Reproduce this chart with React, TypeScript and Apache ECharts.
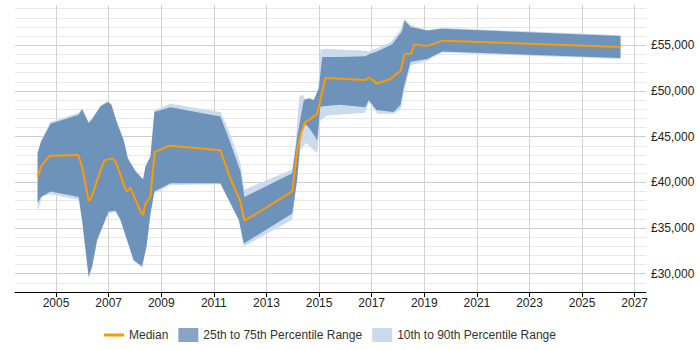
import React, { useEffect, useRef } from "react";
import * as echarts from "echarts";

type Pt = [number, number];

// Axis tick positions
const yearTicks = [2005, 2007, 2009, 2011, 2013, 2015, 2017, 2019, 2021, 2023, 2025, 2027];
const salaryTicks = [30000, 35000, 40000, 45000, 50000, 55000];

// Median salary over time [decimal year, £]
const median: Pt[] = [
  [2004.3, 40600], [2004.44, 41800], [2004.75, 42900], [2005.84, 43000], [2005.99, 41700],
  [2006.24, 38000], [2006.33, 38200], [2006.69, 41300], [2006.84, 42400], [2007.13, 42600],
  [2007.26, 42300], [2007.48, 40600], [2007.64, 39200], [2007.7, 39000], [2007.83, 39400],
  [2008.08, 37700], [2008.21, 36800], [2008.31, 36400], [2008.4, 37700], [2008.59, 38400],
  [2008.75, 43300], [2009.32, 44000], [2011.25, 43500], [2011.63, 40400], [2012.01, 37900],
  [2012.16, 35800], [2013.03, 37300], [2013.98, 39000], [2014.17, 43500], [2014.32, 45500],
  [2014.48, 46600], [2014.61, 46800], [2014.93, 47500], [2015.05, 49000], [2015.24, 51400],
  [2016.76, 51200], [2016.89, 51500], [2017.21, 50800], [2017.71, 51300], [2018.1, 52200],
  [2018.25, 54000], [2018.37, 54100], [2018.48, 54000], [2018.63, 55100], [2019.11, 54900],
  [2019.68, 55500], [2026.46, 54800],
];

// 75th percentile
const p75: Pt[] = [
  [2004.3, 43200], [2004.43, 44400], [2004.79, 46400], [2005.86, 47400], [2005.99, 48000],
  [2006.24, 46500], [2006.37, 46900], [2006.69, 48300], [2006.97, 48800], [2007.1, 48500],
  [2007.32, 46500], [2007.57, 44600], [2007.73, 42600], [2008.02, 41200], [2008.31, 40300],
  [2008.4, 41700], [2008.59, 42800], [2008.74, 47700], [2009.35, 48200], [2011.25, 47200],
  [2011.63, 44300], [2012.01, 41200], [2012.16, 38400], [2013.98, 41000], [2014.17, 45000],
  [2014.42, 49000], [2014.61, 49200], [2014.8, 49000], [2014.99, 50300], [2015.12, 53700],
  [2015.81, 53700], [2016.76, 53800], [2016.9, 54000], [2017.21, 54300], [2017.78, 55100],
  [2018.15, 56500], [2018.25, 57700], [2018.48, 57000], [2019.11, 56600], [2019.68, 56800],
  [2026.46, 56000],
];

// 25th percentile
const p25: Pt[] = [
  [2004.3, 37700], [2004.43, 38400], [2004.79, 39000], [2005.86, 38400], [2005.99, 35900],
  [2006.24, 29700], [2006.37, 30800], [2006.56, 33700], [2006.81, 35500], [2007.0, 36800],
  [2007.26, 36900], [2007.45, 35900], [2007.7, 33700], [2007.95, 31500], [2008.27, 30800],
  [2008.44, 33000], [2008.59, 36600], [2008.74, 39000], [2009.35, 39900], [2011.25, 39900],
  [2011.95, 35900], [2012.14, 33300], [2013.98, 36600], [2014.17, 40300], [2014.29, 44600],
  [2014.42, 46500], [2014.61, 46000], [2014.8, 45200], [2014.93, 44600], [2015.05, 48300],
  [2015.81, 48500], [2016.76, 48200], [2016.89, 49000], [2017.18, 47900], [2017.84, 47700],
  [2018.1, 48500], [2018.22, 50400], [2018.48, 53200], [2019.11, 53500], [2019.68, 54300],
  [2026.46, 53600],
];

// 90th percentile
const p90: Pt[] = [
  [2004.3, 43300], [2004.43, 44600], [2004.79, 46600], [2005.86, 47600], [2005.99, 48100],
  [2006.24, 46600], [2006.37, 47000], [2006.69, 48400], [2006.97, 48900], [2007.1, 48600],
  [2007.32, 46600], [2007.57, 44700], [2007.73, 42700], [2008.02, 41300], [2008.31, 40400],
  [2008.4, 41800], [2008.59, 42900], [2008.74, 47900], [2009.35, 48600], [2011.25, 47700],
  [2011.51, 46100], [2012.01, 42100], [2012.16, 39200], [2013.98, 41400], [2014.1, 44000],
  [2014.25, 49400], [2014.38, 49600], [2014.57, 48500], [2014.93, 48700], [2015.05, 54500],
  [2015.24, 54600], [2016.76, 54400], [2016.89, 54300], [2017.21, 54700], [2017.71, 55300],
  [2018.1, 56700], [2018.25, 57900], [2018.48, 57200], [2019.11, 56600], [2019.68, 56900],
  [2026.46, 56100],
];

// 10th percentile
const p10: Pt[] = [
  [2004.3, 36800], [2004.48, 38500], [2004.79, 38700], [2005.86, 38100], [2005.99, 35800],
  [2006.24, 29500], [2006.37, 30600], [2006.56, 33500], [2006.81, 35300], [2007.0, 36600],
  [2007.26, 36800], [2007.45, 35800], [2007.7, 33600], [2007.95, 31400], [2008.27, 30700],
  [2008.44, 32900], [2008.59, 36500], [2008.74, 38800], [2009.35, 39700], [2011.25, 39800],
  [2011.95, 35800], [2012.14, 33000], [2013.98, 35900], [2014.29, 43500], [2014.5, 44300],
  [2014.93, 43200], [2015.05, 46800], [2015.3, 47300], [2016.76, 47600], [2016.89, 48800],
  [2017.21, 47500], [2017.84, 47500], [2018.1, 48000], [2018.22, 49800], [2018.48, 52800],
  [2019.11, 53300], [2019.68, 54200], [2026.46, 53500],
];

const FONT = "'Liberation Sans', Arial, Helvetica, sans-serif";

const formatPounds = (v: number) => "£" + v.toLocaleString("en-GB");

// Flat bar used as the median's legend key
const LINE_ICON = "path://M0,0H20V3H0Z";

// A filled band between an upper and a lower percentile line, drawn as one polygon
function band(name: string, upper: Pt[], lower: Pt[], fill: string, legendColor: string) {
  return {
    type: "custom",
    name,
    coordinateSystem: "cartesian2d",
    silent: true,
    data: [upper[0]],
    itemStyle: { color: legendColor },
    renderItem: (_params: any, api: any) => {
      const points = [
        ...upper.map((p) => api.coord(p)),
        ...lower.slice().reverse().map((p) => api.coord(p)),
      ];
      return { type: "polygon", shape: { points }, style: { fill } };
    },
  };
}

export default function App() {
  const ref = useRef<HTMLDivElement>(null);

  useEffect(() => {
    document.body.style.margin = "0";
    if (!ref.current) return;
    const chart = echarts.init(ref.current, undefined, { renderer: "svg" });
    chart.setOption({
      animation: false,
      textStyle: { fontFamily: FONT },
      grid: { left: 15, right: 54, top: 5, bottom: 58, containLabel: false, outerBoundsMode: "none" },
      xAxis: {
        type: "value",
        min: 2003.44,
        max: 2027.43,
        axisLine: { onZero: false, lineStyle: { color: "#000", width: 1 } },
        axisTick: { customValues: yearTicks, length: 5, lineStyle: { color: "#000" } },
        axisLabel: {
          customValues: yearTicks,
          formatter: (v: number) => String(Math.round(v)),
          color: "#222",
          fontSize: 12,
          margin: 5,
          fontFamily: FONT,
        },
        splitLine: { show: true, lineStyle: { color: "#d2d2d2" } },
      },
      yAxis: [
        {
          type: "value",
          position: "right",
          min: 28000,
          max: 59400,
          interval: 1000,
          axisLine: { show: false },
          axisTick: { show: false },
          axisLabel: { show: false },
          splitLine: { show: true, showMaxLine: false, showMinLine: false, lineStyle: { color: "#e8e8e8" } },
        },
        {
          type: "value",
          position: "right",
          min: 28000,
          max: 59400,
          axisLine: { show: false },
          axisTick: { show: false, customValues: salaryTicks },
          axisLabel: {
            customValues: salaryTicks,
            formatter: formatPounds,
            color: "#222",
            fontSize: 12,
            margin: 5,
            fontFamily: FONT,
          },
          splitLine: { show: true, lineStyle: { color: "#cdcdcd" } },
        },
      ],
      legend: {
        left: 104,
        top: 328,
        padding: 0,
        itemWidth: 20,
        itemHeight: 14,
        itemGap: 10,
        symbolKeepAspect: true,
        textStyle: { fontSize: 12, color: "#333", fontFamily: FONT },
        data: [
          { name: "Median", icon: LINE_ICON },
          { name: "25th to 75th Percentile Range", icon: "rect" },
          { name: "10th to 90th Percentile Range", icon: "rect" },
        ],
      },
      series: [
        band("10th to 90th Percentile Range", p90, p10, "#cbdbee", "#cbdbee"),
        band("25th to 75th Percentile Range", p75, p25, "#6e93bb", "#87a4c5"),
        {
          type: "line",
          name: "Median",
          data: median,
          symbol: "none",
          z: 5,
          lineStyle: { color: "#ff9900", width: 2 },
          itemStyle: { color: "#ff9900" },
        },
      ],
    });
    return () => chart.dispose();
  }, []);

  return <div ref={ref} style={{ width: 700, height: 350 }} />;
}
